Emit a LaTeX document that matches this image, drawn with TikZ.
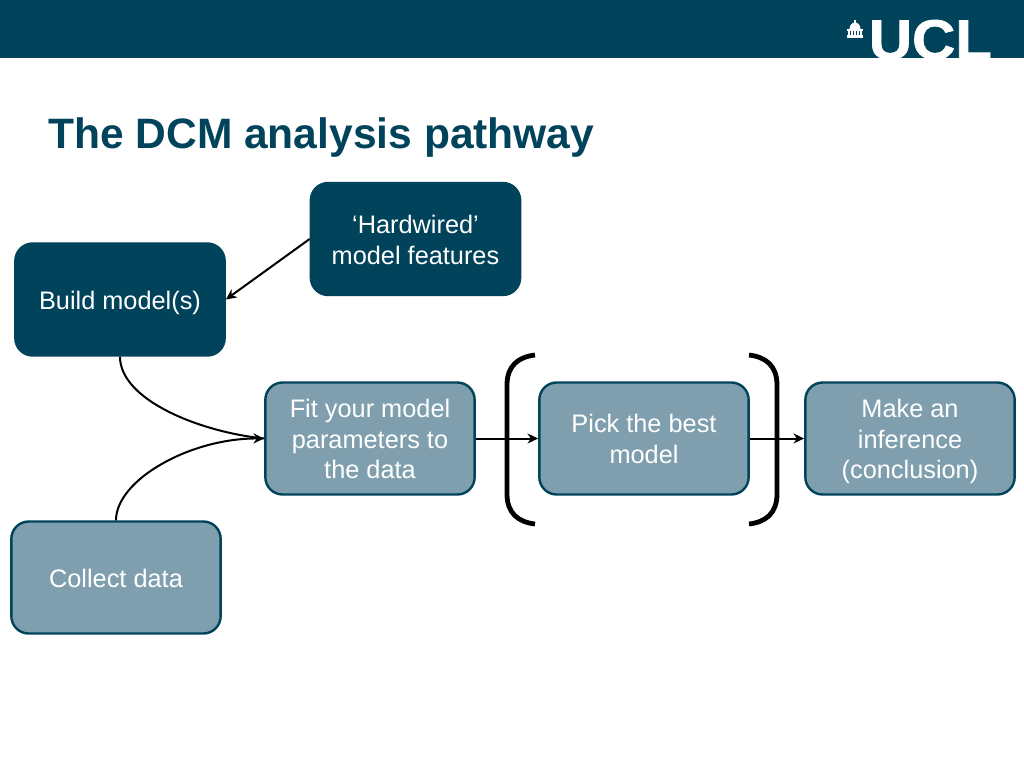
\documentclass[tikz,border=0pt]{standalone}
\usepackage{fontspec}
\setmainfont{Liberation Sans}
\newfontfamily\logofont[FakeBold=1.2]{Liberation Sans Bold}
\usetikzlibrary{arrows.meta}
\definecolor{ucl}{HTML}{00435A}
\definecolor{lightbox}{HTML}{7F9FAE}
\newcommand{\ls}{\rule[-4.7pt]{0pt}{23pt}}
\newcommand{\fs}{\rule[-4.7pt]{0pt}{24pt}}
\tikzset{
  x=0.75pt,y=-0.75pt,
  box/.style={draw=ucl,line width=1.8pt,rounded corners=13pt,minimum width=157pt,minimum height=84pt,inner sep=0pt,align=center,text=white,font=\fontsize{19}{23}\selectfont},
  darkbox/.style={box,fill=ucl},
  palebox/.style={box,fill=lightbox},
  link/.style={black,line width=1.5pt,-{Stealth[length=8pt,width=7.5pt]}},
  plainlink/.style={black,line width=1.5pt},
  brace/.style={black,line width=3.6pt}
}
\begin{document}
\begin{tikzpicture}
\useasboundingbox (0,0) rectangle (1024,768);
\fill[white] (0,0) rectangle (1024,768);
\fill[ucl] (0,0) rectangle (1024,58);
\begin{scope}
\clip (0,0) rectangle (1024,58);
\node[anchor=base west,inner sep=0pt,text=white,font=\fontsize{42}{42}\logofont,xscale=1.07] (logo) at (868.5,59) {UCL};
\end{scope}
% dome icon
\fill[white] (854.2,19.5) rectangle (855.8,24);
\fill[white] (849.5,29) arc[start angle=180,end angle=360,x radius=5.5,y radius=6.5] -- cycle;
\fill[white] (847,29) rectangle (863,31);
\foreach \i in {848,851,854,857,860} \fill[white] (\i,31) rectangle ++(1.8,4);
\fill[white] (847,35) rectangle (863,38);

\node[anchor=base west,inner sep=0pt,text=ucl,font=\fontsize{31.9}{32}\selectfont\bfseries] (title) at (48,148.5) {The DCM analysis pathway};

\node[darkbox] (hard) at (415.5,239) {\fs‘Hardwired’\\\ls model features};
\node[darkbox] (build) at (120,299.5) {\fs Build model(s)};
\node[palebox] (fit) at (370,438.5) {\fs Fit your model\\\ls parameters to\\\ls the data};
\node[palebox] (pick) at (644,438.5) {\fs Pick the best\\\ls model};
\node[palebox] (infer) at (910,438.5) {\fs Make an\\\ls inference\\\ls (conclusion)};
\node[palebox] (collect) at (116,577.5) {\fs Collect data};

\draw[link] (hard.west) -- (build.east);
\draw[plainlink] (build.south) .. controls (120,400) and (200,432) .. (fit.west);
\draw[link] (collect.north) .. controls (116,480) and (190,438) .. (fit.west);
\draw[link] (fit.east) -- (pick.west);
\draw[link] (pick.east) -- (infer.west);

\coordinate (lt) at (535,355);
\coordinate (lb) at (535,524);
\coordinate (rt) at (749,355);
\coordinate (rb) at (749,524);
\draw[brace] (lt) .. controls (518,357) and (507,366) .. (507,385) -- (507,494) .. controls (507,513) and (518,522) .. (lb);
\draw[brace] (rt) .. controls (766,357) and (777,366) .. (777,385) -- (777,494) .. controls (777,513) and (766,522) .. (rb);
\end{tikzpicture}
\end{document}
